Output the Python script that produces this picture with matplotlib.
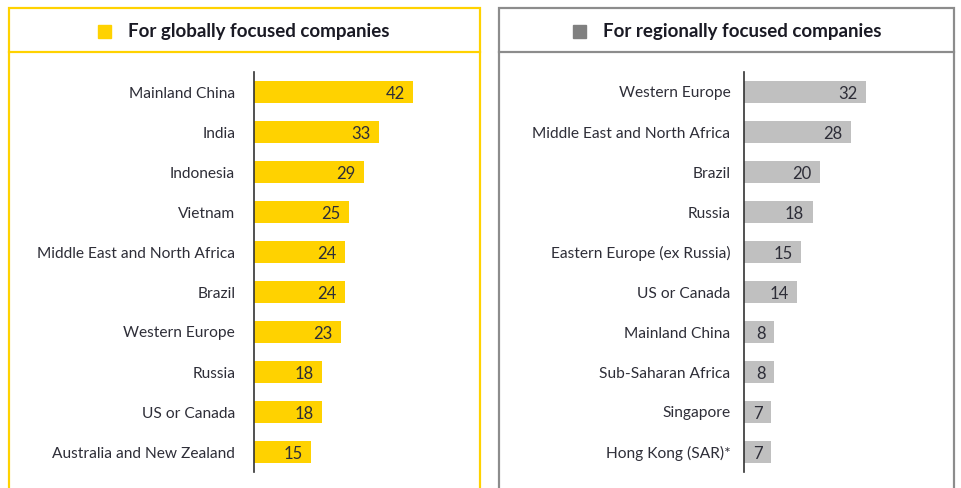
import matplotlib
matplotlib.use("Agg")
import matplotlib.pyplot as plt
from matplotlib.patches import Rectangle

# data
global_labels = ["Mainland China", "India", "Indonesia", "Vietnam",
                 "Middle East and North Africa", "Brazil", "Western Europe",
                 "Russia", "US or Canada", "Australia and New Zealand"]
global_values = [42, 33, 29, 25, 24, 24, 23, 18, 18, 15]

regional_labels = ["Western Europe", "Middle East and North Africa", "Brazil",
                   "Russia", "Eastern Europe (ex Russia)", "US or Canada",
                   "Mainland China", "Sub-Saharan Africa", "Singapore",
                   "Hong Kong (SAR)*"]
regional_values = [32, 28, 20, 18, 15, 14, 8, 8, 7, 7]

YELLOW = "#FFD200"
GREY_BAR = "#C0C0C0"
GREY_BOX = "#8C8C8C"
GREY_SQ = "#808080"
TEXT = "#2E2E38"

W, H = 962, 488
plt.rcParams['font.family'] = ['Lato', 'DejaVu Sans']

fig = plt.figure(figsize=(W / 100, H / 100), dpi=100)


def fx(px):
    return px / W


def fy(py):
    return 1 - py / H


def panel(x0, x1, color, sq_color, title, title_x, sq_x):
    lw = 2.2
    # outer box (bottom runs off the figure)
    fig.add_artist(Rectangle((fx(x0), fy(H + 10)), fx(x1 - x0), (H + 2) / H,
                             transform=fig.transFigure, fill=False,
                             edgecolor=color, linewidth=lw * 0.72))
    # header divider
    fig.add_artist(plt.Line2D([fx(x0), fx(x1)], [fy(52), fy(52)],
                              transform=fig.transFigure, color=color,
                              linewidth=lw * 0.72))
    fig.add_artist(Rectangle((fx(sq_x), fy(37.5)), fx(13), 13 / H,
                             transform=fig.transFigure, color=sq_color))
    fig.text(fx(title_x), fy(31.5), title, fontsize=13.5, fontweight='bold',
             color="#1A1A24", va='center', ha='left')


def bars(ax, labels, values, color, xmax, pad):
    y = list(range(len(labels)))
    ax.barh(y, values, height=0.56, color=color)
    ax.set_ylim(len(labels) - 0.5, -0.5)
    ax.set_xlim(0, xmax)
    ax.set_yticks(y)
    ax.set_yticklabels(labels, fontsize=11.2, color=TEXT)
    ax.tick_params(axis='y', length=0, pad=pad)
    ax.set_xticks([])
    for s in ['top', 'right', 'bottom']:
        ax.spines[s].set_visible(False)
    ax.spines['left'].set_color("#333333")
    ax.spines['left'].set_linewidth(1.2)
    for yi, v in zip(y, values):
        ax.text(v - 2.2, yi + 0.04, str(v), ha='right', va='center',
                fontsize=12, color=TEXT)


panel(9, 480, YELLOW, YELLOW, "For globally focused companies", 128, 98)
panel(499, 954, GREY_BOX, GREY_SQ, "For regionally focused companies", 603, 573)

ax1 = fig.add_axes([fx(254), fy(472), fx(220), 400 / H])
bars(ax1, global_labels, global_values, YELLOW, 220 / 3.79, 13.5)

ax2 = fig.add_axes([fx(744), fy(472), fx(204), 400 / H])
bars(ax2, regional_labels, regional_values, GREY_BAR, 204 / 3.81, 9.8)

fig.savefig("out.png", dpi=100)
